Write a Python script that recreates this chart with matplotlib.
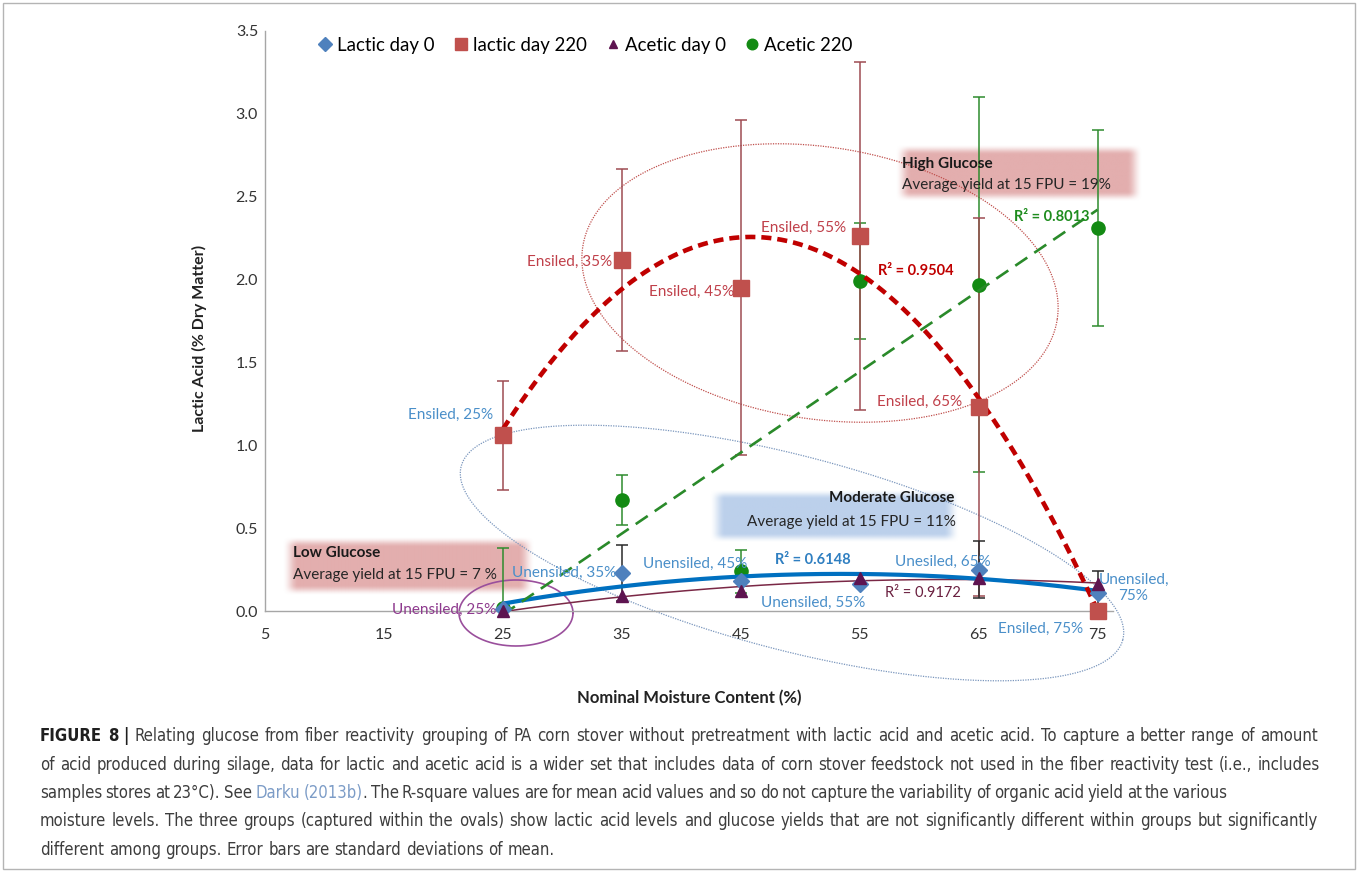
import numpy as np
import matplotlib
matplotlib.use("Agg")
import matplotlib.pyplot as plt
from matplotlib.patches import Rectangle
from matplotlib import font_manager

# ---------------- data ----------------
moisture = [25, 35, 45, 55, 65, 75]
x_ticks = [5, 15, 25, 35, 45, 55, 65, 75]
y_ticks = [0.0, 0.5, 1.0, 1.5, 2.0, 2.5, 3.0, 3.5]

lactic_d0 = [0.01, 0.23, 0.18, 0.16, 0.25, 0.11]
lactic_d0_sd = [0.0, 0.17, 0.0, 0.0, 0.17, 0.13]
lactic_d220 = [1.06, 2.12, 1.95, 2.26, 1.23, 0.0]
lactic_d220_sd = [0.33, 0.55, 1.01, 1.05, 1.14, 0.0]
acetic_d0 = [0.0, 0.09, 0.12, 0.20, 0.20, 0.16]
acetic_d220 = [0.02, 0.67, 0.24, 1.99, 1.97, 2.31]
acetic_d220_sd = [0.36, 0.15, 0.13, 0.35, 1.13, 0.59]

series_names = ["Lactic day 0", "lactic day 220", "Acetic day 0", "Acetic 220"]
d0_labels = ["Unensiled, 25%", "Unensiled, 35%", "Unensiled, 45%",
             "Unensiled, 55%", "Unesiled, 65%", "Unensiled,\n75%"]
d220_labels = ["Ensiled, 25%", "Ensiled, 35%", "Ensiled, 45%",
               "Ensiled, 55%", "Ensiled, 65%", "Ensiled, 75%"]
r2_lactic_d220 = "R\u00b2 = 0.9504"
r2_acetic_d220 = "R\u00b2 = 0.8013"
r2_lactic_d0 = "R\u00b2 = 0.6148"
r2_acetic_d0 = "R\u00b2 = 0.9172"

groups = [("Low Glucose", "Average yield at 15 FPU = 7 %"),
          ("Moderate Glucose", "Average yield at 15 FPU = 11%"),
          ("High Glucose", "Average yield at 15 FPU = 19%")]

caption_lines = [
    "*FIGURE 8 |* Relating glucose from fiber reactivity grouping of PA corn stover without pretreatment with lactic acid and acetic acid. To capture a better range of amount",
    "of acid produced during silage, data for lactic and acetic acid is a wider set that includes data of corn stover feedstock not used in the fiber reactivity test (i.e., includes",
    "samples stores at 23\u00b0C). See {Darku (2013b)}. The R-square values are for mean acid values and so do not capture the variability of organic acid yield at the various",
    "moisture levels. The three groups (captured within the ovals) show lactic acid levels and glucose yields that are not significantly different within groups but significantly",
    "different among groups. Error bars are standard deviations of mean.",
]

# ---------------- style ----------------
W, H = 1358, 872
plt.rcParams["font.family"] = ["Lato", "DejaVu Sans"]

C_DIAMOND = "#4f81bd"
C_SQUARE = "#c0504d"
C_TRI = "#5e1450"
C_CIRCLE = "#138a13"
C_LBL_BLUE = "#4a8fc9"
C_LBL_RED = "#c0404a"

fig = plt.figure(figsize=(W / 100, H / 100), dpi=100)
fig.patch.set_facecolor("white")
ax = fig.add_axes([265 / W, 1 - 611 / H, 848 / W, 580 / H])
ax.patch.set_alpha(0)

x = np.array(moisture, dtype=float)


def soft_box(x0, x1, y0, y1, rgb, alpha=0.85, feather=0.18, z=0.5):
    ny, nx = 60, 240
    iy = np.arange(ny)
    ix = np.arange(nx)
    dy = np.minimum(iy, ny - 1 - iy) / (feather * ny)
    dx = np.minimum(ix, nx - 1 - ix) / (feather * nx * 0.35)
    ey = np.clip(dy, 0, 1)
    ex = np.clip(dx, 0, 1)
    ey = ey * ey * (3 - 2 * ey)
    ex = ex * ex * (3 - 2 * ex)
    img = np.zeros((ny, nx, 4))
    img[..., 0] = rgb[0] / 255
    img[..., 1] = rgb[1] / 255
    img[..., 2] = rgb[2] / 255
    img[..., 3] = np.outer(ey, ex) * alpha
    ax.imshow(img, extent=[x0, x1, y0, y1], aspect="auto", zorder=z,
              clip_on=False, interpolation="bilinear")


# group boxes
soft_box(6.4, 27.6, 0.09, 0.45, (222, 160, 160))
soft_box(42.3, 63.4, 0.41, 0.73, (176, 200, 232))
soft_box(58.0, 78.8, 2.47, 2.82, (222, 160, 160))

# trend lines
xs = np.linspace(25, 75, 300)
fit_red = np.polyfit(x, lactic_d220, 2)
fit_green = np.polyfit(x, acetic_d220, 1)
fit_blue = np.polyfit(x, lactic_d0, 2)
fit_maroon = np.polyfit(x, acetic_d0, 2)
ax.plot(xs, np.polyval(fit_maroon, xs), color="#7a2846", lw=1.1, zorder=3)
ax.plot(xs, np.polyval(fit_blue, xs), color="#0070c0", lw=3.0, zorder=3.2,
        solid_capstyle="butt")
ax.plot(xs, np.polyval(fit_green, xs), color="#2a8a2a", lw=1.9,
        linestyle=(0, (5.5, 3.2)), zorder=3.4)
ax.plot(xs, np.polyval(fit_red, xs), color="#c00000", lw=3.3,
        linestyle=(0, (2.2, 1.3)), zorder=3.6)


# error bars (only where a deviation was reported)
def bars(y, sd, color, z):
    y = np.asarray(y)
    sd = np.asarray(sd)
    m = sd > 0
    ax.errorbar(x[m], y[m], yerr=sd[m], fmt="none", ecolor=color,
                elinewidth=1.1, capsize=4, capthick=1.1, zorder=z)


bars(acetic_d220, acetic_d220_sd, "#2e8b2e", 2.2)
bars(lactic_d220, lactic_d220_sd, "#9e4b52", 2.4)
bars(lactic_d0, lactic_d0_sd, "#2a2a2a", 2.6)

# markers
h_circ, = ax.plot(x, acetic_d220, "o", color=C_CIRCLE, ms=9.5, zorder=3.1,
                  clip_on=True, label=series_names[3])
h_sq, = ax.plot(x, lactic_d220, "s", color=C_SQUARE, ms=11, zorder=5,
                clip_on=False, label=series_names[1])
h_dia, = ax.plot(x, lactic_d0, "D", color=C_DIAMOND, ms=8.5, zorder=5.2,
                 clip_on=False, label=series_names[0])
h_tri, = ax.plot(x, acetic_d0, "^", color=C_TRI, ms=8, zorder=5.4,
                 clip_on=False, label=series_names[2])


# ovals around groups (drawn in figure pixel space)
def oval(cx, cy, a, b, ang, color, lw, ls):
    t = np.linspace(0, 2 * np.pi, 400)
    th = np.deg2rad(ang)
    px = cx + a * np.cos(t) * np.cos(th) - b * np.sin(t) * np.sin(th)
    py = cy + a * np.cos(t) * np.sin(th) + b * np.sin(t) * np.cos(th)
    ax.plot(px / W, 1 - py / H, color=color, lw=lw, linestyle=ls,
            transform=fig.transFigure, clip_on=False, zorder=2)


oval(820, 283, 240, 136, 8.7, "#c0504d", 0.9, (0, (1.0, 1.0)))
oval(792, 553, 342, 97, 14.7, "#7a96bd", 0.9, (0, (1.0, 1.0)))
oval(516, 613, 57, 33, 0, "#9a4f9c", 1.2, "-")


# data labels
def label(xv, yv, text, dx, dy, color, ha="right", **kw):
    ax.annotate(text, (xv, yv), xytext=(dx, dy), textcoords="offset pixels",
                ha=ha, va="center", color=color, fontsize=11, zorder=6,
                annotation_clip=False, **kw)


d0_offsets = [(-7, -1), (-6, 0), (7, 17), (6, -18), (12, 8), (36, 5)]
for i, (xv, yv) in enumerate(zip(moisture, lactic_d0)):
    dx, dy = d0_offsets[i]
    col = "#8e3a8e" if i == 0 else C_LBL_BLUE
    if i == 5:
        label(xv, yv, d0_labels[i], dx, dy, col, ha="center",
              multialignment="center", linespacing=1.25)
    else:
        label(xv, yv, d0_labels[i], dx, dy, col)

d220_offsets = [(-10, 20), (-10, -2), (-7, -4), (-14, 9), (-16, 5), (-14, -18)]
for i, (xv, yv) in enumerate(zip(moisture, lactic_d220)):
    dx, dy = d220_offsets[i]
    col = C_LBL_BLUE if i in (0, 5) else C_LBL_RED
    label(xv, yv, d220_labels[i], dx, dy, col)

ax.text(56.5, 2.05, r2_lactic_d220, color="#c00000", fontsize=10.5,
        fontweight="bold", va="center", zorder=6)
ax.text(68.0, 2.38, r2_acetic_d220, color="#1e8c1e", fontsize=10.5,
        fontweight="bold", va="center", zorder=6)
ax.text(47.9, 0.31, r2_lactic_d0, color="#2f7fc1", fontsize=10.5,
        fontweight="bold", va="center", zorder=6)
ax.text(57.1, 0.11, r2_acetic_d0, color="#6a1f3f", fontsize=10.5,
        va="center", zorder=6)

# group notes
ax.text(7.35, 0.35, groups[0][0], fontsize=11, fontweight="bold",
        color="#1a1a1a", va="center", zorder=6)
ax.text(7.35, 0.22, groups[0][1], fontsize=11, color="#262626",
        va="center", zorder=6)
ax.text(63.0, 0.68, groups[1][0], fontsize=11, fontweight="bold",
        color="#1a1a1a", va="center", ha="right", zorder=6)
ax.text(63.1, 0.54, groups[1][1], fontsize=11, color="#262626",
        va="center", ha="right", zorder=6)
ax.text(58.6, 2.70, groups[2][0], fontsize=11, fontweight="bold",
        color="#1a1a1a", va="center", zorder=6, clip_on=False)
ax.text(58.6, 2.57, groups[2][1], fontsize=11, color="#262626",
        va="center", zorder=6, clip_on=False)

# axes
ax.set_xlim(5, 76.3)
ax.set_ylim(0, 3.5)
ax.set_xticks(x_ticks)
ax.set_yticks(y_ticks)
ax.set_yticklabels([f"{v:.1f}" for v in y_ticks])
ax.tick_params(length=0, labelsize=11.5, colors="#333333")
ax.tick_params(axis="y", pad=5)
ax.tick_params(axis="x", pad=12)
for s in ("top", "right"):
    ax.spines[s].set_visible(False)
for s in ("left", "bottom"):
    ax.spines[s].set_color("#a6a6a6")
    ax.spines[s].set_linewidth(1.0)
ax.set_ylabel("Lactic Acid (% Dry Matter)", fontsize=11.5, fontweight="bold",
              color="#222222")
ax.yaxis.set_label_coords(-0.068, 0.47)
ax.set_xlabel("Nominal Moisture Content (%)", fontsize=12, fontweight="bold",
              color="#222222")
ax.xaxis.set_label_coords(0.5, -0.136)

ax.legend(handles=[h_dia, h_sq, h_tri, h_circ], loc="upper left",
          bbox_to_anchor=(0.062, 0.990), ncol=4, frameon=False,
          fontsize=13.4, handlelength=0.8, handletextpad=0.25,
          columnspacing=1.0, borderpad=0, borderaxespad=0, markerscale=0.8)

# outer frame
fig.add_artist(Rectangle((3 / W, 3 / H), (W - 6) / W, (H - 6) / H,
                         transform=fig.transFigure, fill=False,
                         ec="#b4b4b4", lw=1.0))

# ---------------- caption ----------------
cap_font = dict(family="Roboto")
fonts = font_manager.fontManager.ttflist
narrow = [f for f in fonts if f.name == "Liberation Sans Narrow"]
condensed = [f for f in fonts
             if f.stretch in ("condensed", "semi-condensed", 400, 300)
             and f.name in ("DejaVu Sans", "Noto Sans", "Open Sans", "Roboto")]
if narrow:
    cap_font = dict(family="Liberation Sans Narrow")
elif condensed:
    cap_font = dict(family=condensed[0].name, fontstretch=condensed[0].stretch)

cap_styles = {
    "normal": dict(color="#3d3d3d", fontweight="normal"),
    "bold": dict(color="#1f1f1f", fontweight="bold"),
    "link": dict(color="#7c9cc7", fontweight="normal"),
}


def parse_rich(line):
    words, cur, buf, style = [], [], [], "normal"
    for ch in line + " ":
        if ch in "*{} ":
            if buf:
                cur.append(("".join(buf), style))
                buf = []
            if ch == "*":
                style = "normal" if style == "bold" else "bold"
            elif ch == "{":
                style = "link"
            elif ch == "}":
                style = "normal"
            elif ch == " " and cur:
                words.append(cur)
                cur = []
        else:
            buf.append(ch)
    return words


renderer = fig.canvas.get_renderer()


def measure(s, style, size):
    t = fig.text(0, 0, s, fontsize=size, **cap_font, **cap_styles[style])
    w = t.get_window_extent(renderer).width
    t.remove()
    return w


def natural_width(words, size):
    sp = measure("a a", "normal", size) - measure("aa", "normal", size)
    tot = sum(measure(txt, st, size) for wd in words for txt, st in wd)
    return tot + sp * (len(words) - 1), sp


parsed = [parse_rich(l) for l in caption_lines]
line_left = 40
line_right = [1318, 1320, 1228, 1318, None]
baselines = [741, 770, 798, 826, 855]

base = 14.0
w0, _ = natural_width(parsed[0], base)
cap_size = min(15.5, base * (line_right[0] - line_left) * 0.985 / w0)

for words, right, yb in zip(parsed, line_right, baselines):
    tot_nat, sp = natural_width(words, cap_size)
    gap = sp
    if right is not None and len(words) > 1:
        gap = sp + ((right - line_left) - tot_nat) / (len(words) - 1)
    xc = line_left
    for wd in words:
        for txt, st in wd:
            fig.text(xc / W, 1 - yb / H, txt, fontsize=cap_size,
                     va="baseline", ha="left", **cap_font, **cap_styles[st])
            xc += measure(txt, st, cap_size)
        xc += gap

fig.savefig("out.png", dpi=100)
